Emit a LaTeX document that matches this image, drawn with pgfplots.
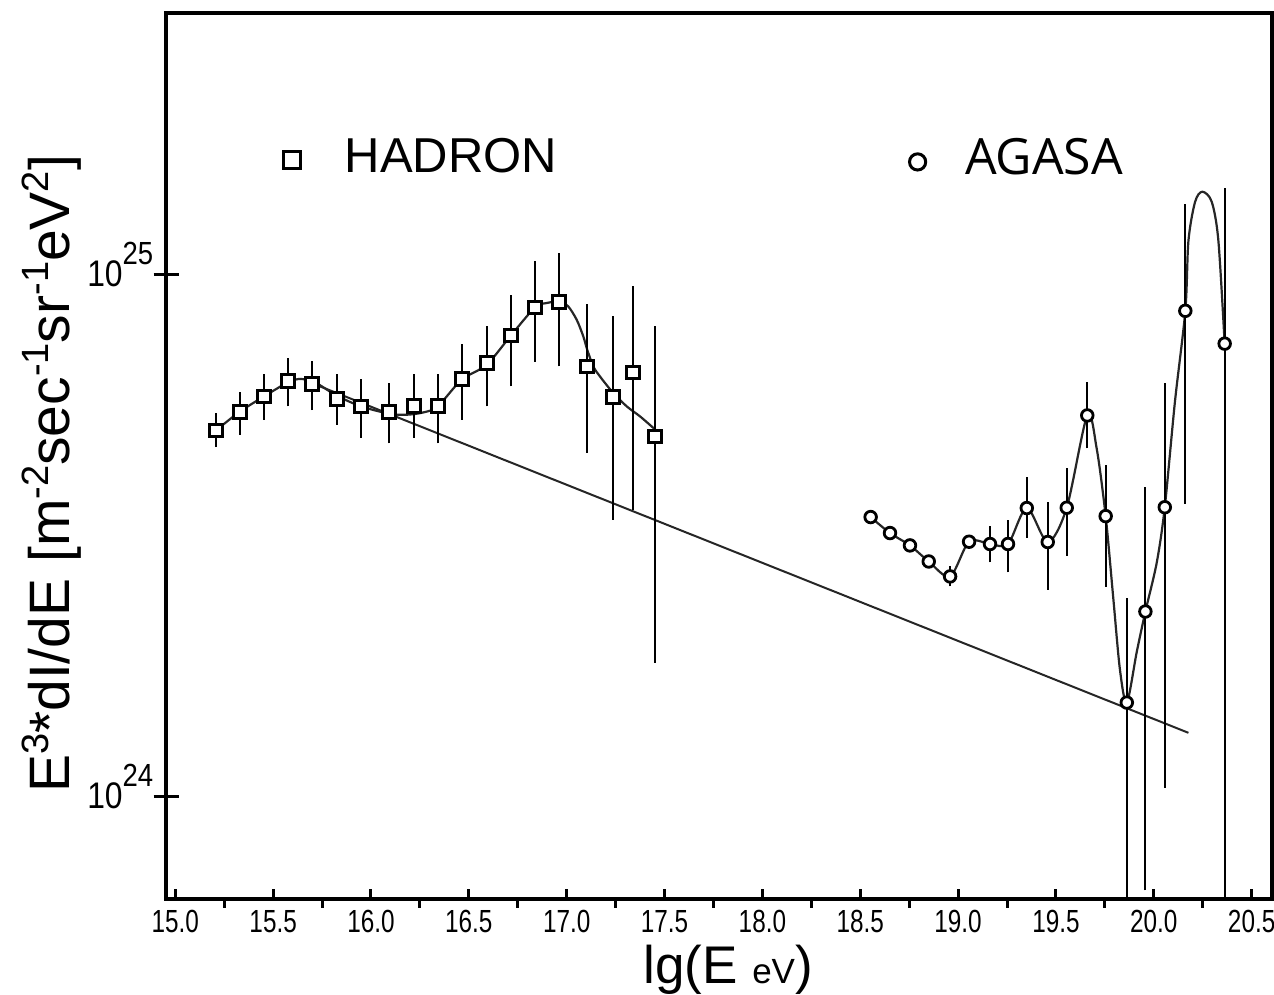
\documentclass[border=0pt]{standalone}
\usepackage{fontspec}
\setmainfont{Liberation Sans}
\newfontfamily\narrow[FakeStretch=0.76]{Liberation Sans}
\newfontfamily\narrowb[FakeStretch=0.86]{Liberation Sans}
\newfontfamily\opensans{Open Sans}
\usepackage{pgfplots}
\pgfplotsset{compat=1.18}

\pgfplotsset{
  eb/.style={line width=2pt, black, forget plot},
  fit/.style={smooth, line width=2.2pt, black!85, forget plot},
}
\newcommand\sups[1]{\raisebox{21pt}{\fontsize{38}{38}\selectfont #1}}

\begin{document}
\begin{tikzpicture}

\begin{axis}[at={(166pt,95pt)}, anchor=south west, scale only axis,
  width=1106pt, height=886pt,
  xmin=14.9525, xmax=20.604, ymode=log, ymin=6.35e23, ymax=3.18e25,
  axis line style={line width=4.5pt},
  every tick/.style={black, line width=3pt},
  xtick pos=left, ytick pos=left,
  xtick={15,15.5,16,16.5,17,17.5,18,18.5,19,19.5,20,20.5},
  xticklabels={15.0,15.5,16.0,16.5,17.0,17.5,18.0,18.5,19.0,19.5,20.0,20.5},
  xticklabel style={font=\narrow\fontsize{32}{32}\selectfont, inner sep=0pt, anchor=north, yshift=-11pt},
  minor x tick num=1,
  xtick align=inside, major tick length=10pt, minor tick length=9pt,
  minor x tick style={yshift=-9pt},
  ytick=\empty,
  minor ytick={7e23,8e23,9e23,2e24,3e24,4e24,5e24,6e24,7e24,8e24,9e24,2e25,3e25},
  ytick align=inside,
  minor y tick style={xshift=-9pt},
  extra y ticks={1e24,1e25},
  extra y tick labels={{10\raisebox{22pt}{\fontsize{32}{32}\selectfont 24}},{10\raisebox{22pt}{\fontsize{32}{32}\selectfont 25}}},
  extra y tick style={tick align=center, major tick length=25pt,
    yticklabel style={font=\narrowb\fontsize{37}{37}\selectfont, anchor=base east, inner sep=0pt, yshift=-12pt}},
  legend style={draw=none, fill=none, at={(0.10461,0.83770)}, anchor=west,
    inner sep=0pt, outer sep=0pt, column sep=43pt, nodes={inner sep=0pt},
    font=\fontsize{49}{49}\selectfont},
  legend image code/.code={\draw[black, line width=3.2pt, fill=white] (1.6pt,-11.5pt) rectangle (18.6pt,5.5pt);},
]
% power-law line
\addplot[line width=2pt, black!85, forget plot] coordinates {(15.699,6.193e24) (20.177,1.322e24)};
% HADRON fit
\addplot[fit] coordinates {
(15.208,5.027e24) (15.329,5.460e24) (15.453,5.841e24) (15.574,6.214e24) (15.629,6.308e24)
(15.705,6.242e24) (15.826,5.860e24) (15.950,5.590e24) (16.094,5.412e24) (16.182,5.388e24)
(16.267,5.443e24) (16.341,5.590e24) (16.463,6.289e24) (16.591,6.720e24) (16.715,7.649e24)
(16.838,8.656e24) (16.898,8.825e24) (16.966,8.888e24) (17.008,8.693e24) (17.051,8.197e24)
(17.085,7.613e24) (17.105,7.180e24) (17.136,6.669e24) (17.170,6.381e24) (17.238,5.930e24)
(17.307,5.590e24) (17.375,5.348e24) (17.453,5.043e24)};
% AGASA fit
\addplot[fit] coordinates {
(18.553,3.429e24) (18.652,3.195e24) (18.754,3.025e24) (18.850,2.818e24) (18.959,2.638e24)
(19.056,3.075e24) (19.163,3.044e24) (19.255,3.044e24) (19.351,3.568e24) (19.458,3.071e24)
(19.555,3.573e24) (19.660,5.371e24) (19.708,4.645e24) (19.754,3.443e24) (19.793,2.395e24)
(19.827,1.747e24) (19.862,1.511e24) (19.913,1.891e24) (19.957,2.259e24) (20.015,2.804e24)
(20.056,3.581e24) (20.108,5.707e24) (20.161,8.526e24) (20.177,1.162e25) (20.211,1.380e25)
(20.248,1.443e25) (20.296,1.380e25) (20.330,1.162e25) (20.362,7.376e24)};
% HADRON error bars
\addplot[eb] coordinates {(15.208,4.67e24) (15.208,5.43e24)};
\addplot[eb] coordinates {(15.329,4.93e24) (15.329,5.96e24)};
\addplot[eb] coordinates {(15.453,5.27e24) (15.453,6.46e24)};
\addplot[eb] coordinates {(15.574,5.59e24) (15.574,6.91e24)};
\addplot[eb] coordinates {(15.700,5.50e24) (15.700,6.82e24)};
\addplot[eb] coordinates {(15.826,5.16e24) (15.826,6.46e24)};
\addplot[eb] coordinates {(15.950,4.87e24) (15.950,6.30e24)};
\addplot[eb] coordinates {(16.094,4.75e24) (16.094,6.21e24)};
\addplot[eb] coordinates {(16.218,4.87e24) (16.218,6.44e24)};
\addplot[eb] coordinates {(16.341,4.75e24) (16.341,6.46e24)};
\addplot[eb] coordinates {(16.463,5.27e24) (16.463,7.37e24)};
\addplot[eb] coordinates {(16.591,5.59e24) (16.591,7.96e24)};
\addplot[eb] coordinates {(16.715,6.11e24) (16.715,9.14e24)};
\addplot[eb] coordinates {(16.838,6.81e24) (16.838,1.061e25)};
\addplot[eb] coordinates {(16.962,6.67e24) (16.962,1.101e25)};
\addplot[eb] coordinates {(17.105,4.56e24) (17.105,8.79e24)};
\addplot[eb] coordinates {(17.238,3.39e24) (17.238,8.34e24)};
\addplot[eb] coordinates {(17.337,3.53e24) (17.337,9.50e24)};
\addplot[eb] coordinates {(17.453,1.80e24) (17.453,7.96e24)};
% AGASA error bars
\addplot[eb] coordinates {(18.959,2.524e24) (18.959,2.757e24)};
\addplot[eb] coordinates {(19.163,2.806e24) (19.163,3.300e24)};
\addplot[eb] coordinates {(19.255,2.685e24) (19.255,3.384e24)};
\addplot[eb] coordinates {(19.351,3.126e24) (19.351,4.085e24)};
\addplot[eb] coordinates {(19.458,2.487e24) (19.458,3.664e24)};
\addplot[eb] coordinates {(19.555,2.890e24) (19.555,4.250e24)};
\addplot[eb] coordinates {(19.660,4.645e24) (19.660,6.220e24)};
\addplot[eb] coordinates {(19.754,2.520e24) (19.754,4.307e24)};
\addplot[eb] coordinates {(19.862,5.0e23) (19.862,2.395e24)};
\addplot[eb] coordinates {(19.957,6.59e23) (19.957,3.920e24)};
\addplot[eb] coordinates {(20.056,1.037e24) (20.056,6.190e24)};
\addplot[eb] coordinates {(20.161,3.637e24) (20.161,1.368e25)};
\addplot[eb] coordinates {(20.362,5.0e23) (20.362,1.469e25)};
% HADRON markers
\addplot[only marks, mark=square*, mark size=6.4pt, mark options={line width=3pt, draw=black, fill=white}] coordinates {
(15.208,5.027e24) (15.329,5.460e24) (15.453,5.841e24) (15.574,6.262e24) (15.700,6.170e24)
(15.826,5.775e24) (15.950,5.590e24) (16.094,5.452e24) (16.218,5.606e24) (16.341,5.606e24)
(16.463,6.317e24) (16.591,6.770e24) (16.715,7.649e24) (16.838,8.656e24) (16.962,8.864e24)
(17.105,6.669e24) (17.238,5.834e24) (17.337,6.495e24) (17.453,4.896e24)};
\addlegendentry{HADRON}
\end{axis}

\begin{axis}[at={(166pt,95pt)}, anchor=south west, scale only axis,
  width=1106pt, height=886pt,
  xmin=14.9525, xmax=20.604, ymode=log, ymin=6.35e23, ymax=3.18e25,
  hide axis,
  legend style={draw=none, fill=none, at={(0.67089,0.83736)}, anchor=west,
    inner sep=0pt, outer sep=0pt, column sep=38pt, nodes={inner sep=0pt},
    font=\opensans\fontsize{50}{50}\selectfont},
  legend image code/.code={\draw[black, line width=3pt] (9.6pt,-5pt) circle (8.1pt);},
]
\addplot[only marks, mark=*, mark size=5.8pt, mark options={line width=2.8pt, draw=black, fill=white}] coordinates {
(18.553,3.429e24) (18.652,3.195e24) (18.754,3.025e24) (18.850,2.818e24) (18.959,2.638e24)
(19.056,3.075e24) (19.163,3.044e24) (19.255,3.044e24) (19.351,3.568e24) (19.458,3.071e24)
(19.555,3.573e24) (19.660,5.371e24) (19.754,3.443e24) (19.862,1.511e24) (19.957,2.259e24)
(20.056,3.581e24) (20.161,8.526e24) (20.362,7.376e24)};
\addlegendentry{AGASA}
\end{axis}

\node[rotate=90, anchor=base, font=\fontsize{57}{57}\selectfont] at (69pt,520pt)
  {E\sups{3}*dI/dE [m\sups{-2}sec\sups{-1}sr\sups{-1}eV\sups{2}]};
\node[anchor=base] at (728pt,11pt)
  {\fontsize{53}{53}\selectfont lg(E {\fontsize{35}{35}\selectfont eV})};

\pgfresetboundingbox
\useasboundingbox (0pt,0pt) rectangle (1274pt,994pt);
\end{tikzpicture}
\end{document}
